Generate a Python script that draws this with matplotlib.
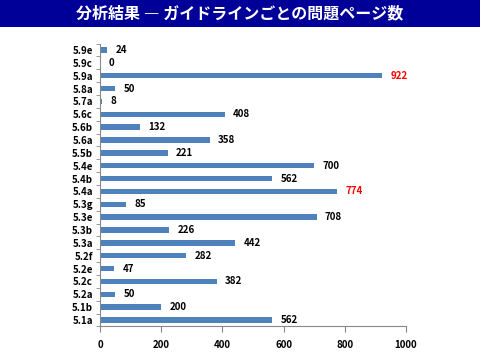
import matplotlib
matplotlib.use("Agg")
import matplotlib.pyplot as plt
from matplotlib.patches import Rectangle

plt.rcParams['font.family'] = ['Noto Sans CJK JP', 'DejaVu Sans']

categories = ["5.1a", "5.1b", "5.2a", "5.2c", "5.2e", "5.2f", "5.3a", "5.3b", "5.3e", "5.3g",
              "5.4a", "5.4b", "5.4e", "5.5b", "5.6a", "5.6b", "5.6c", "5.7a", "5.8a", "5.9a",
              "5.9c", "5.9e"]
values = [562, 200, 50, 382, 47, 282, 442, 226, 708, 85,
          774, 562, 700, 221, 358, 132, 408, 8, 50, 922,
          0, 24]
highlight = ["5.4a", "5.9a"]
xticks = [0, 200, 400, 600, 800, 1000]
title = "分析結果 ― ガイドラインごとの問題ページ数"

fig = plt.figure(figsize=(4.8, 3.6), dpi=100)
fig.patches.append(Rectangle((0, 1 - 27/360), 1, 27/360, transform=fig.transFigure,
                             facecolor="#000099", edgecolor="none", zorder=0))
fig.text(0.5, 1 - 13.5/360, title, color="white", ha="center", va="center",
         fontsize=11.5, fontweight="bold")

ax = fig.add_axes([100/480, 1 - 326.4/360, 306/480, (326.4 - 43.6)/360])
y = list(range(len(categories)))
ax.barh(y, values, height=0.42, color="#4F81BD")
ax.set_ylim(-0.5, len(categories) - 0.5)
ax.set_xlim(0, 1000)
ax.set_yticks(y)
ax.set_yticklabels(categories, fontsize=7, fontweight="bold")
ax.set_xticks(xticks)
ax.set_xticklabels([str(t) for t in xticks], fontsize=7, fontweight="bold")
ax.tick_params(axis="x", length=4, color="#888888", pad=6)
ax.tick_params(axis="y", length=0, pad=5)
ax.set_yticks([i - 0.5 for i in range(len(categories) + 1)], minor=True)
ax.tick_params(axis="y", which="minor", length=3, color="#888888")
for s in ["top", "right"]:
    ax.spines[s].set_visible(False)
for s in ["left", "bottom"]:
    ax.spines[s].set_color("#888888")
for yi, (c, v) in enumerate(zip(categories, values)):
    col = "red" if c in highlight else "black"
    ax.annotate(str(v), (v, yi), xytext=(6, 0), textcoords="offset points",
                va="center", ha="left", fontsize=7, fontweight="bold", color=col)

fig.savefig("out.png", dpi=100)
